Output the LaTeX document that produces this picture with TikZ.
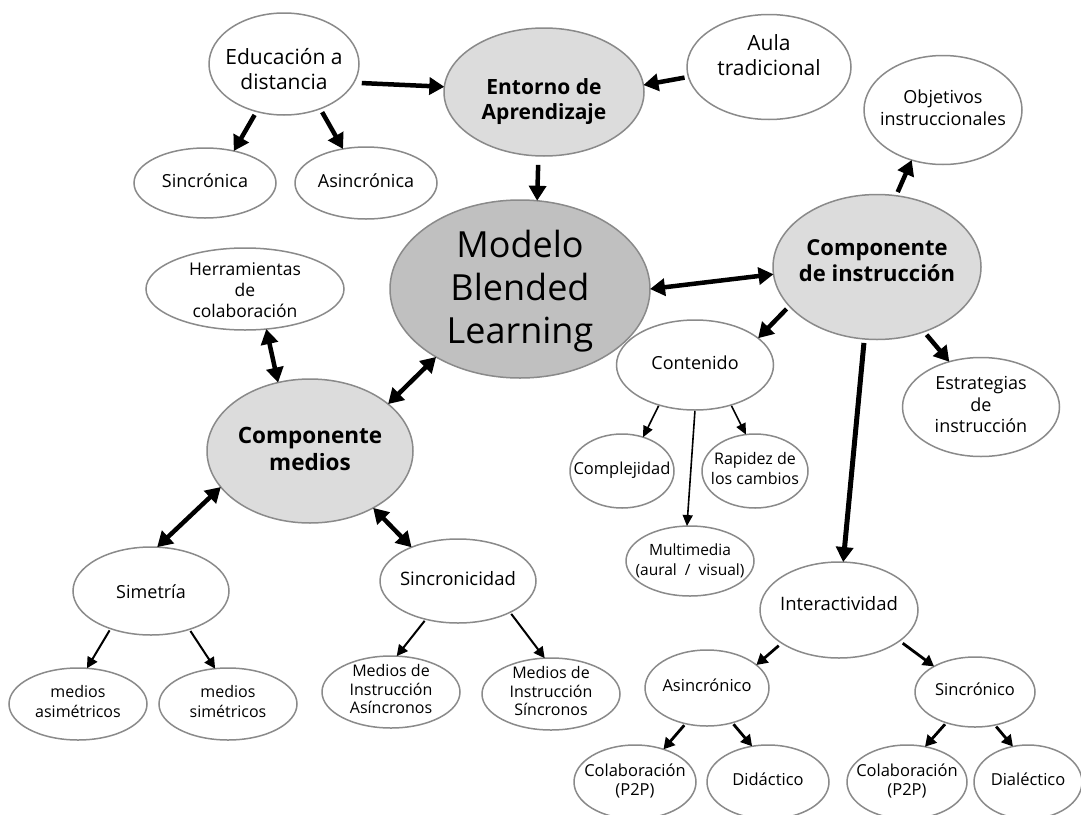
\documentclass[tikz,border=0pt]{standalone}
\usepackage{fontspec}
\setmainfont{Open Sans}
\usetikzlibrary{shapes.geometric,arrows.meta}
\definecolor{edgegray}{HTML}{8A8A8A}
\definecolor{lightfill}{HTML}{DCDCDC}
\definecolor{darkfill}{HTML}{C0C0C0}
\newcommand{\fz}[2]{\fontsize{#1pt}{#2pt}\selectfont}
\newcommand{\tx}[2][0pt]{\raisebox{\dimexpr#1-0.25em\relax}[0pt][0pt]{\makebox[0pt]{\begin{tabular}{@{}c@{}}#2\end{tabular}}}}
\begin{document}
\begin{tikzpicture}[x=1pt,y=-1pt,
  bub/.style={ellipse,draw=edgegray,line width=1.5pt,fill=white,inner sep=0pt,outer sep=0pt,text=black},
  hub/.style={bub,fill=lightfill},
  core/.style={bub,fill=darkfill},
  sz/.style 2 args={minimum width=#1,minimum height=#2},
  bigarr/.style={line width=4.5pt,-{Triangle[length=15pt,width=17pt]},shorten <=4pt},
  dblarr/.style={line width=4.5pt,{Triangle[length=15pt,width=17pt]}-{Triangle[length=15pt,width=17pt]}},
  midarr/.style={line width=2.8pt,-{Triangle[length=11pt,width=12pt]},shorten <=2pt},
  medarr/.style={line width=2pt,-{Triangle[length=11pt,width=11pt]},shorten <=2pt},
  thinarr/.style={line width=1.6pt,-{Triangle[length=11pt,width=10pt]},shorten <=1pt},
]
\useasboundingbox (0,0) rectangle (1081,814);
\fill[white] (0,0) rectangle (1081,814);
\clip (0,0) rectangle (1081,814);

% nodes
\node[bub,sz={150}{102},font=\fz{21}{25}] (edu) at (284,64) {\tx[-8pt]{Educación a\\distancia}};
\node[hub,sz={200}{128},font=\fz{21}{25}\bfseries] (ent) at (544,92) {\tx[-10pt]{Entorno de\\Aprendizaje}};
\node[bub,sz={164}{105},font=\fz{21}{25}] (aula) at (769,67) {\tx[9pt]{Aula\\tradicional}};
\node[bub,sz={142}{70},font=\fz{18}{22}] (sinc) at (205,183) {\tx{Sincrónica}};
\node[bub,sz={142}{72},font=\fz{18}{22}] (asinc) at (366,183) {\tx{Asincrónica}};
\node[bub,sz={158}{109},font=\fz{18}{22}] (obj) at (943,110) {\tx{Objetivos\\instruccionales}};
\node[core,sz={260}{178},font=\fz{36}{43}] (mod) at (520,289) {\tx{Modelo\\Blended\\Learning}};
\node[bub,sz={198}{82},font=\fz{17.5}{21}] (herr) at (245,289) {\tx[-3pt]{Herramientas\\de\\colaboración}};
\node[hub,sz={208}{145},font=\fz{22}{26}\bfseries] (cins) at (877,267) {\tx[4pt]{Componente\\de instrucción}};
\node[bub,sz={157}{90},font=\fz{18}{22}] (cont) at (695,365) {\tx{Contenido}};
\node[bub,sz={157}{99},font=\fz{18}{21.5}] (estr) at (981,407) {\tx{Estrategias\\de\\instrucción}};
\node[hub,sz={206}{144},font=\fz{22.5}{27}\bfseries] (cmed) at (310,451) {\tx{Componente\\medios}};
\node[bub,sz={104}{74},font=\fz{16.5}{20}] (compl) at (622,471) {\tx{Complejidad}};
\node[bub,sz={106}{74},font=\fz{16}{20}] (rap) at (755,471) {\tx{Rapidez de\\los cambios}};
\node[bub,sz={128}{70},font=\fz{15.5}{20}] (mult) at (690,561) {\tx{Multimedia\\(aural \ / \ visual)}};
\node[bub,sz={156}{88},font=\fz{18}{22}] (sim) at (151,591) {\tx[-3pt]{Simetría}};
\node[bub,sz={156}{84},font=\fz{18.5}{22}] (sincr) at (458,581) {\tx{Sincronicidad}};
\node[bub,sz={158}{96},font=\fz{18.5}{22}] (inter) at (839,610) {\tx[4pt]{Interactividad}};
\node[bub,sz={138}{72},font=\fz{16}{19.5}] (masim) at (78,704) {\tx{medios\\asimétricos}};
\node[bub,sz={138}{72},font=\fz{16}{19.5}] (msim) at (228,704) {\tx{medios\\simétricos}};
\node[bub,sz={138}{72},font=\fz{16}{18.5}] (masin) at (391,692) {\tx{Medios de\\Instrucción\\Asíncronos}};
\node[bub,sz={138}{72},font=\fz{16}{18.5}] (msin) at (551,694) {\tx{Medios de\\Instrucción\\Síncronos}};
\node[bub,sz={124}{76},font=\fz{16.5}{20}] (asico) at (707,688) {\tx{Asincrónico}};
\node[bub,sz={120}{70},font=\fz{16.5}{20}] (sico) at (975,692) {\tx{Sincrónico}};
\node[bub,sz={122}{74},font=\fz{16.5}{19}] (colA) at (635,782) {\tx{Colaboración\\(P2P)}};
\node[bub,sz={122}{74},font=\fz{16.5}{19}] (did) at (768,782) {\tx{Didáctico}};
\node[bub,sz={120}{74},font=\fz{16.5}{19}] (colB) at (907,782) {\tx{Colaboración\\(P2P)}};
\node[bub,sz={108}{74},font=\fz{16.5}{19}] (dia) at (1028,782) {\tx{Dialéctico}};

% connectors
\draw[bigarr,shorten <=8pt] (edu.-15) -- (ent.177);
\draw[bigarr] (aula.187) -- (ent.4);
\draw[bigarr] (edu.240) -- (sinc.48);
\draw[bigarr] (edu.-51) -- (asinc.124);
\draw[bigarr,shorten <=9pt] (ent.-95) -- (mod.79);
\draw[bigarr] (cins.75) -- (obj.-122);
\draw[dblarr] (mod.0) -- (cins.184);
\draw[bigarr] (cins.204) -- (cont.23);
\draw[bigarr] (cins.-54) -- (estr.125);
\draw[bigarr,line width=5pt] (cins.-100) -- (inter.85);
\draw[thinarr] (cont.-132) -- (compl.58);
\draw[thinarr] (cont.-90) -- (mult.95);
\draw[thinarr] (cont.-48) -- (rap.104);
\draw[dblarr] (herr.-62) -- (cmed.115);
\draw[dblarr] (mod.219) -- (cmed.31);
\draw[dblarr] (cmed.202) -- (sim.82);
\draw[dblarr] (cmed.-42) -- (sincr.144);
\draw[medarr] (sim.223) -- (masim.76);
\draw[medarr] (sim.-45) -- (msim.110);
\draw[medarr] (sincr.-130) -- (masin.81);
\draw[medarr] (sincr.-31) -- (msin.100);
\draw[midarr,shorten <=4pt] (inter.210) -- (asico.25);
\draw[midarr,shorten <=4pt] (inter.-27) -- (sico.148);
\draw[midarr] (asico.-121) -- (colA.49);
\draw[midarr] (asico.-54) -- (did.114);
\draw[midarr] (sico.-133) -- (colB.63);
\draw[midarr] (sico.-59) -- (dia.113);
\end{tikzpicture}
\end{document}
